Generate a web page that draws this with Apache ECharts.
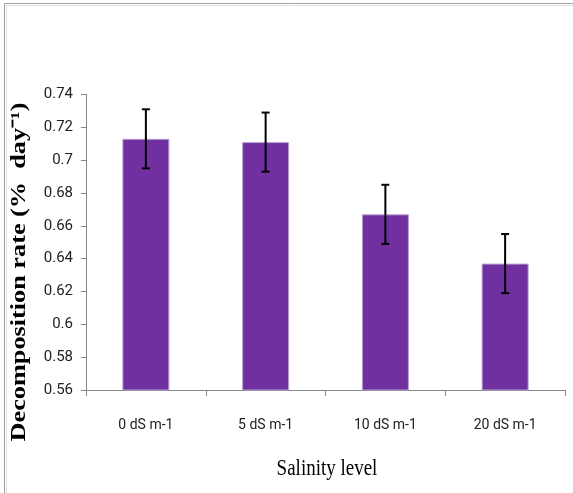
<!DOCTYPE html>
<html><head><meta charset="utf-8">
<script src="https://cdn.jsdelivr.net/npm/echarts@6/dist/echarts.min.js"></script>
<style>html,body{margin:0;padding:0;background:#fff}#c{width:573px;height:493px}</style>
</head><body><div id="c"></div>
<script>
var categories = ['0 dS m-1', '5 dS m-1', '10 dS m-1', '20 dS m-1'];
var means = [0.713, 0.711, 0.667, 0.637];
var errors = [0.018, 0.018, 0.018, 0.018];
var yTitle = 'Decomposition rate (%  day\u207B\u00B9)';
var xTitle = 'Salinity level';

var chart = echarts.init(document.getElementById('c'), null, {renderer: 'canvas'});
var errData = means.map(function (m, i) { return [i, m - errors[i], m + errors[i]]; });
chart.setOption({
  animation: false,
  graphic: [{
    type: 'rect', shape: {x: 4.5, y: 3.5, width: 600, height: 520},
    style: {fill: 'none', stroke: '#a0a0a0', lineWidth: 1}, silent: true
  }, {
    type: 'rect', shape: {x: 6.5, y: 5.5, width: 600, height: 520},
    style: {fill: 'none', stroke: '#e0e0e0', lineWidth: 1}, silent: true
  }, {
    type: 'text', x: 20, y: 272, rotation: Math.PI / 2, scaleX: 1.25, silent: true,
    style: {text: yTitle, font: 'bold 21px "Liberation Serif"', fill: '#000',
      align: 'center', verticalAlign: 'middle'}
  }, {
    type: 'text', x: 327, y: 469, scaleY: 1.25, silent: true,
    style: {text: xTitle, font: '19px "Liberation Serif"', fill: '#000',
      align: 'center', verticalAlign: 'middle'}
  }],
  grid: {left: 86, right: 8, top: 94.5, bottom: 103, outerBoundsMode: 'none', containLabel: false},
  xAxis: {
    type: 'category', data: categories,
    axisLine: {lineStyle: {color: '#868686'}},
    axisTick: {show: true, length: 6, lineStyle: {color: '#868686'}, alignWithLabel: false},
    axisLabel: {fontFamily: 'Roboto', fontSize: 14, color: '#222', margin: 28}
  },
  yAxis: {
    type: 'value', min: 0.56, max: 0.74, interval: 0.02,
    axisLine: {show: true, lineStyle: {color: '#868686'}},
    axisTick: {show: true, length: 5, lineStyle: {color: '#868686'}},
    splitLine: {show: false},
    axisLabel: {fontFamily: 'Roboto', fontSize: 15, color: '#222', margin: 13,
      formatter: function (v) { return String(+v.toFixed(2)); }}
  },
  series: [{
    type: 'bar', data: means, barWidth: 47,
    itemStyle: {color: '#7030A0', borderColor: '#b9a0d2', borderWidth: 1}
  }, {
    type: 'custom', data: errData, z: 10,
    renderItem: function (params, api) {
      var x = api.value(0);
      var lo = api.coord([x, api.value(1)]);
      var hi = api.coord([x, api.value(2)]);
      var hw = 4;
      var st = {stroke: '#000', lineWidth: 2};
      return {type: 'group', children: [
        {type: 'line', shape: {x1: lo[0], y1: lo[1], x2: hi[0], y2: hi[1]}, style: st},
        {type: 'line', shape: {x1: lo[0] - hw, y1: lo[1], x2: lo[0] + hw, y2: lo[1]}, style: st},
        {type: 'line', shape: {x1: hi[0] - hw, y1: hi[1], x2: hi[0] + hw, y2: hi[1]}, style: st}
      ]};
    }
  }]
});
</script></body></html>
